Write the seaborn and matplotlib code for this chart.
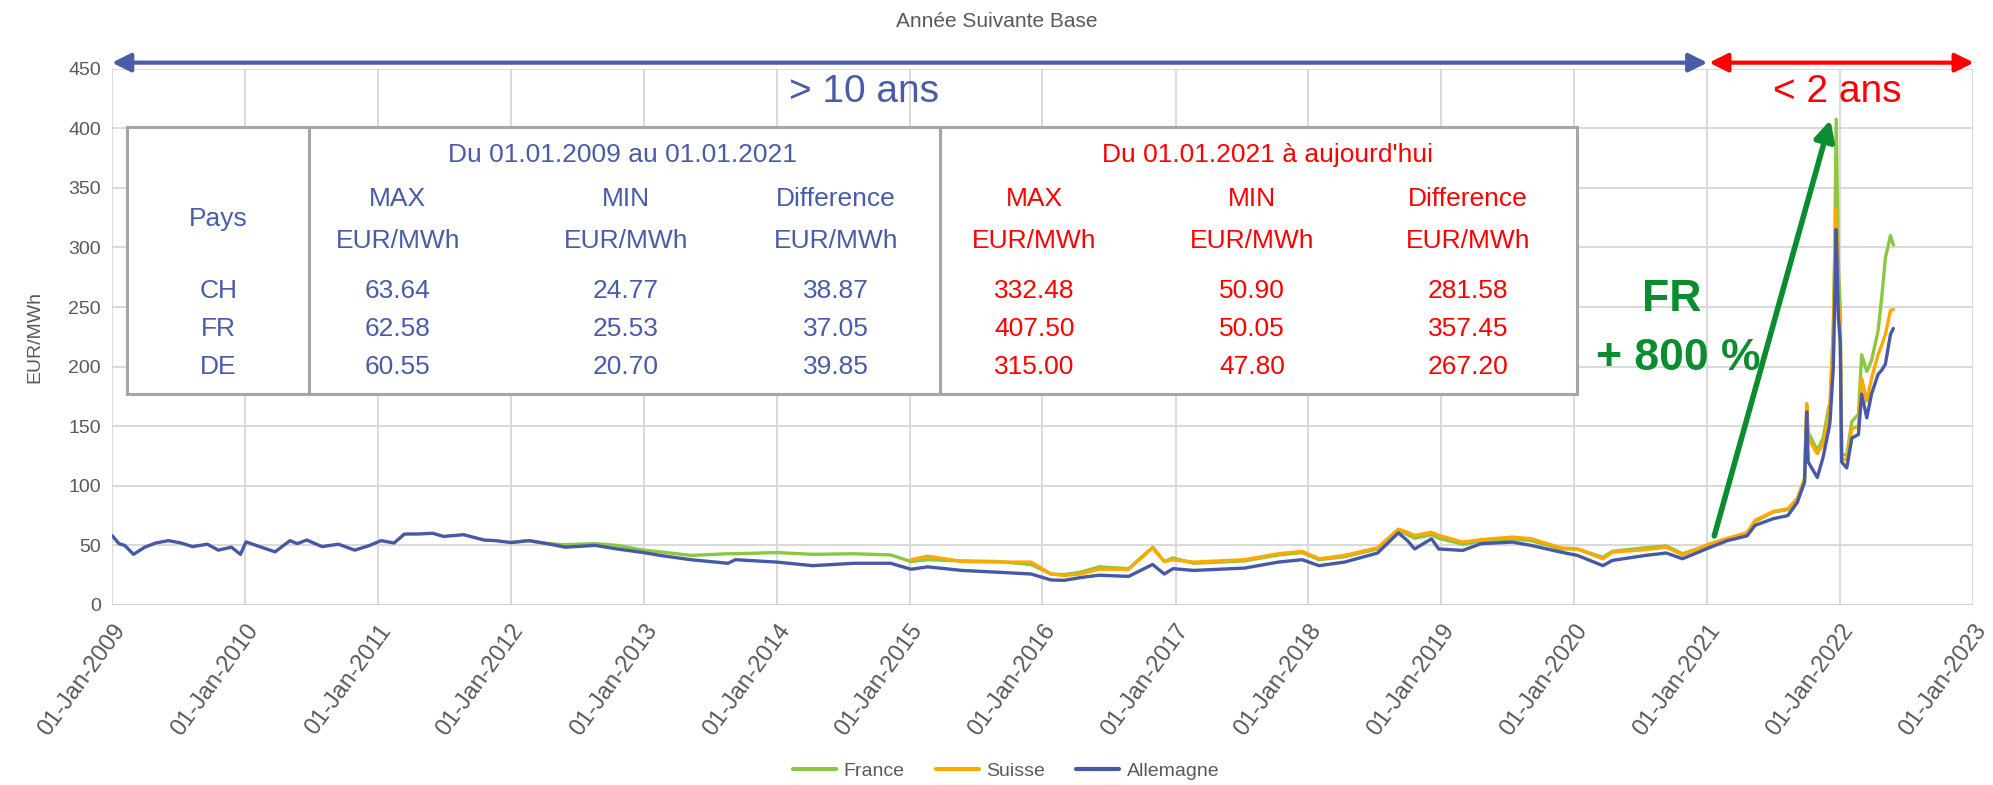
import matplotlib
matplotlib.use("Agg")
import matplotlib.pyplot as plt
import matplotlib.dates as mdates
from matplotlib.patches import Rectangle
from matplotlib.lines import Line2D
import pandas as pd
import seaborn as sns

# %% data
dates = [
    "2009-01-02", "2009-01-20", "2009-02-05", "2009-03-01", "2009-04-01", "2009-05-01", "2009-06-05",
    "2009-07-10", "2009-08-10", "2009-09-20", "2009-10-20", "2009-11-25", "2009-12-20",
    "2010-01-04", "2010-02-15", "2010-03-25", "2010-05-05", "2010-05-25", "2010-06-20", "2010-08-01",
    "2010-09-15", "2010-10-30", "2010-12-10",
    "2011-01-10", "2011-02-15", "2011-03-15", "2011-04-25", "2011-06-01", "2011-07-01", "2011-08-25",
    "2011-10-20", "2011-11-20",
    "2012-01-02", "2012-02-20", "2012-04-10", "2012-05-30", "2012-08-20", "2012-10-20", "2012-12-31",
    "2013-02-15", "2013-05-10", "2013-08-20", "2013-09-10",
    "2014-01-01", "2014-04-10", "2014-08-01", "2014-11-10",
    "2015-01-05", "2015-02-20", "2015-05-25", "2015-09-01", "2015-12-01",
    "2016-01-25", "2016-03-01", "2016-04-15", "2016-06-05", "2016-08-25", "2016-10-30", "2016-12-01",
    "2016-12-25",
    "2017-02-20", "2017-07-10", "2017-10-10", "2017-12-15",
    "2018-01-30", "2018-04-10", "2018-07-10", "2018-09-05", "2018-09-30", "2018-10-20", "2018-12-05",
    "2018-12-25",
    "2019-03-01", "2019-04-20", "2019-07-15", "2019-09-05", "2019-11-25",
    "2020-01-10", "2020-03-20", "2020-04-15", "2020-07-15", "2020-09-10", "2020-10-25",
    "2021-01-04", "2021-02-25", "2021-04-20", "2021-05-12", "2021-07-01", "2021-08-10", "2021-09-05",
    "2021-09-25", "2021-10-01", "2021-10-05", "2021-10-30", "2021-11-15", "2021-12-01", "2021-12-04",
    "2021-12-13", "2021-12-17", "2021-12-21", "2021-12-27",
    "2022-01-01", "2022-01-05", "2022-01-19", "2022-02-02", "2022-02-20", "2022-03-01", "2022-03-15",
    "2022-03-28", "2022-04-15", "2022-04-25", "2022-05-05", "2022-05-19", "2022-05-27",
]

# Allemagne covers the whole period
allemagne = [
    58, 51.5, 50, 42.5, 48.5, 52, 54, 52, 49, 51, 46, 48.5, 42.5,
    53, 48.5, 44.6, 54, 51.5, 54.5, 49, 51, 46, 50,
    54, 52, 59.5, 59.6, 60.2, 57.5, 59, 54.5, 54,
    52.4, 54, 51.5, 48.5, 50, 47, 44,
    41.6, 38, 35, 38,
    36, 33, 35, 35,
    30, 32, 29, 27.5, 26,
    21, 20.7, 23, 25, 24, 34, 26, 30.5,
    29, 31, 36, 38,
    33, 36, 43.6, 60.55, 54, 47, 55.6, 47,
    45.8, 51.4, 52.8, 50, 44.4,
    41.6, 33, 37.4, 41.6, 43.6, 38.8,
    47.8, 54, 58, 66.8, 72.4, 75, 86, 103, 162, 120, 107, 124, 148, 154, 199, 255, 315, 241,
    221, 120, 115, 140, 143, 177, 157, 177, 193.5, 197, 202, 227, 232,
]
# France starts in 2012, Suisse in 2015 (aligned to the end of `dates`)
france = [
    52.4, 54, 51.5, 50.6, 51.5, 50, 46,
    44.6, 41.6, 43, 43,
    44, 42.5, 43, 42,
    36.5, 38, 37, 36.5, 34,
    26, 25.53, 27.5, 32, 30.5, 48.5, 36.5, 39.5,
    35, 37, 42, 44,
    38, 40.5, 47, 62.58, 59, 56, 59, 56,
    51, 53.5, 55.5, 54, 47,
    47, 40, 45, 48, 49.5, 43,
    50.05, 55, 60, 70, 78, 80, 89, 106, 165, 145, 130, 140, 167, 165, 232, 300, 407.5, 283,
    250, 126, 126, 154, 160, 210, 196, 205, 230, 258, 291, 310, 302,
]
suisse = [
    38, 41, 36.5, 36, 36,
    26, 24.77, 26, 30, 30, 48, 36.5, 38,
    36, 38, 43, 45,
    38.8, 41.6, 48, 63.64, 61, 58.4, 61, 58.4,
    52.8, 54.8, 57, 55.6, 48,
    47, 38.8, 44.4, 46.4, 48.6, 42,
    50.9, 56, 60.6, 71, 78.5, 80.8, 89, 106, 169, 139.6, 127, 135, 159, 171, 230, 291, 332.48, 255,
    235, 122, 122, 148, 150, 190, 171, 190, 210, 218, 227, 247, 248,
]

series_names = ["France", "Suisse", "Allemagne"]
series_colors = ["#8DC641", "#FFA800", "#4659A7"]

pays = ["CH", "FR", "DE"]
col_heads = ["MAX", "MIN", "Difference"]
old_vals = [["63.64", "24.77", "38.87"], ["62.58", "25.53", "37.05"], ["60.55", "20.70", "39.85"]]
new_vals = [["332.48", "50.90", "281.58"], ["407.50", "50.05", "357.45"], ["315.00", "47.80", "267.20"]]

BLUE = "#4A5CA8"
RED = "#FF0000"
GREEN = "#0A8C2F"
GREY = "#595959"

frames = []
for name, vals in zip(series_names, [france, suisse, allemagne]):
    frames.append(pd.DataFrame({"date": pd.to_datetime(dates[-len(vals):]), "EUR/MWh": vals, "Pays": name}))
df = pd.concat(frames, ignore_index=True)

sns.set_theme(style="whitegrid")
plt.rcParams["font.family"] = ["Liberation Sans", "DejaVu Sans"]

fig = plt.figure(figsize=(19.93, 7.85), dpi=100)
ax = fig.add_axes([0.0562, 0.2293, 0.9338, 0.6833])

sns.lineplot(data=df, x="date", y="EUR/MWh", hue="Pays", hue_order=series_names,
             palette=series_colors, linewidth=2.4, estimator=None, sort=False, legend=False, ax=ax)

d = mdates.date2num
ax.set_xlim(d(pd.Timestamp("2009-01-01")), d(pd.Timestamp("2023-01-01")))
ax.set_ylim(0, 450)
years = pd.date_range("2009-01-01", "2023-01-01", freq="YS")
ax.set_xticks(d(years))
ax.set_xticklabels([y.strftime("%d-%b-%Y") for y in years], rotation=54, ha="right",
                   rotation_mode="anchor", fontsize=17, color=GREY)
ax.set_yticks(range(0, 451, 50))
ax.set_yticklabels([str(v) for v in range(0, 451, 50)], fontsize=14, color=GREY)
ax.tick_params(axis="x", length=7, width=1.3, color="#D9D9D9", pad=4)
ax.tick_params(axis="y", length=0, pad=8)
ax.grid(True, color="#D9D9D9", linewidth=1.4)
for s in ax.spines.values():
    s.set_visible(False)
ax.axhline(0, color="#D0D0D0", linewidth=2.2, zorder=1)
ax.set_xlabel("")
ax.set_ylabel("EUR/MWh", fontsize=14, color=GREY, labelpad=18)

fig.text(0.5, 0.972, "Année Suivante Base", ha="center", va="center", fontsize=15, color=GREY)

# period arrows
arr_y = 455
ax.annotate("", xy=(d(pd.Timestamp("2021-01-01")), arr_y), xytext=(d(pd.Timestamp("2009-01-01")), arr_y),
            arrowprops=dict(arrowstyle="<|-|>", color=BLUE, lw=3, mutation_scale=28, shrinkA=0, shrinkB=0),
            annotation_clip=False)
ax.annotate("", xy=(d(pd.Timestamp("2023-01-03")), arr_y), xytext=(d(pd.Timestamp("2021-01-06")), arr_y),
            arrowprops=dict(arrowstyle="<|-|>", color=RED, lw=3, mutation_scale=28, shrinkA=0, shrinkB=0),
            annotation_clip=False)
ax.text(0.404, 0.957, "> 10 ans", transform=ax.transAxes, ha="center", va="center", fontsize=28, color=BLUE)
ax.text(0.927, 0.957, "< 2 ans", transform=ax.transAxes, ha="center", va="center", fontsize=28, color=RED)

# summary table
tl, tr, tt, tb = 0.008, 0.787, 0.891, 0.393
ax.add_patch(Rectangle((tl, tb), tr - tl, tt - tb, transform=ax.transAxes, facecolor="white",
                       edgecolor="#A6A6A6", linewidth=2.2, zorder=4))
for xv in (0.106, 0.445):
    ax.add_line(Line2D([xv, xv], [tb, tt], transform=ax.transAxes, color="#A6A6A6", linewidth=2.2, zorder=5))

tkw = dict(transform=ax.transAxes, ha="center", va="center", fontsize=19, zorder=6)
row_y = [0.585, 0.514, 0.444]
ax.text(0.0573, 0.720, "Pays", color=BLUE, **tkw)
for p, yv in zip(pays, row_y):
    ax.text(0.0573, yv, p, color=BLUE, **tkw)
ax.text(0.2745, 0.839, "Du 01.01.2009 au 01.01.2021", color=BLUE, **tkw)
ax.text(0.6207, 0.839, "Du 01.01.2021 à aujourd'hui", color=RED, **tkw)
for cols, vals, color in [((0.1535, 0.276, 0.389), old_vals, BLUE), ((0.4957, 0.6126, 0.7287), new_vals, RED)]:
    for cx, head in zip(cols, col_heads):
        ax.text(cx, 0.756, head, color=color, **tkw)
        ax.text(cx, 0.678, "EUR/MWh", color=color, **tkw)
    for row, yv in zip(vals, row_y):
        for cx, v in zip(cols, row):
            ax.text(cx, yv, v, color=color, **tkw)

# France annotation
ax.annotate("", xy=(d(pd.Timestamp("2021-12-05")), 407), xytext=(d(pd.Timestamp("2021-01-20")), 58),
            arrowprops=dict(arrowstyle="-|>", color=GREEN, lw=4, mutation_scale=30, shrinkA=0, shrinkB=0),
            annotation_clip=False, zorder=7)
ax.text(0.838, 0.569, "FR", transform=ax.transAxes, ha="center", va="center", fontsize=32,
        fontweight="bold", color=GREEN, zorder=8)
ax.text(0.8415, 0.460, "+ 800 %", transform=ax.transAxes, ha="center", va="center", fontsize=32,
        fontweight="bold", color=GREEN, zorder=8)

handles = [Line2D([], [], color=c, linewidth=3) for c in series_colors]
fig.legend(handles, series_names, loc="center", bbox_to_anchor=(0.505, 0.018), ncol=3, frameon=False,
           fontsize=14, labelcolor=GREY, handlelength=2.2, columnspacing=1.6, handletextpad=0.4)

fig.savefig("out.png", dpi=100)
